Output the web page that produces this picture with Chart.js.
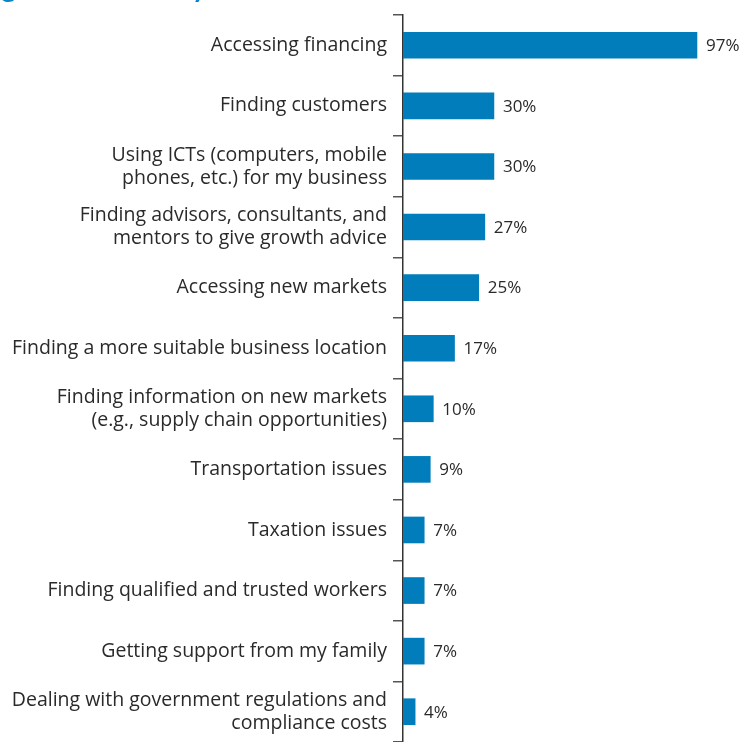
<!DOCTYPE html>
<html>
<head>
<meta charset="utf-8">
<script src="https://cdn.jsdelivr.net/npm/chart.js@4"></script>
<style>
  html, body { margin: 0; padding: 0; background: #fff; }
  #wrap { position: relative; width: 750px; height: 742px; overflow: hidden; }
  #chart { display: block; }
  #title {
    position: absolute; left: -92px; top: -31px; margin: 0; line-height: 34px;
    font: bold 28px Lato, sans-serif; color: #0a85c7; white-space: nowrap;
  }
</style>
</head>
<body>
<div id="wrap">
  <h2 id="title">Challenges Identified by Women</h2>
  <canvas id="chart" width="750" height="742"></canvas>
</div>
<script>
// Categories, top to bottom
const categories = [
    'Accessing financing',
    'Finding customers',
    ['Using ICTs (computers, mobile', 'phones, etc.) for my business'],
    ['Finding advisors, consultants, and', 'mentors to give growth advice'],
    'Accessing new markets',
    'Finding a more suitable business location',
    ['Finding information on new markets', '(e.g., supply chain opportunities)'],
    'Transportation issues',
    'Taxation issues',
    'Finding qualified and trusted workers',
    'Getting support from my family',
    ['Dealing with government regulations and', 'compliance costs']
];

// Share of respondents (%)
const shares = [97, 30, 30, 27, 25, 17, 10, 9, 7, 7, 7, 4];

const barColor = '#007dba';
const textColor = '#2a2a2a';
const fontFamily = '"Open Sans", sans-serif';

// Draw the percent label just right of each bar
const valueLabels = {
    id: 'valueLabels',
    afterDatasetsDraw(chart) {
        const ctx = chart.ctx;
        const meta = chart.getDatasetMeta(0);
        ctx.save();
        ctx.font = '17px ' + fontFamily;
        ctx.fillStyle = textColor;
        ctx.textBaseline = 'middle';
        ctx.textAlign = 'left';
        meta.data.forEach((bar, i) => {
            ctx.fillText(shares[i] + '%', bar.x + 9, bar.y + 1);
        });
        ctx.restore();
    }
};

new Chart(document.getElementById('chart'), {
    type: 'bar',
    data: {
        labels: categories,
        datasets: [{
            data: shares,
            backgroundColor: barColor,
            barThickness: 26
        }]
    },
    options: {
        indexAxis: 'y',
        responsive: false,
        animation: false,
        layout: { padding: { top: 15, right: 0, bottom: 0, left: 0 } },
        plugins: {
            legend: { display: false },
            tooltip: { enabled: false }
        },
        scales: {
            x: {
                display: false,
                min: 0,
                max: 114.5
            },
            y: {
                afterFit(scale) {
                    scale.width = 403;
                    scale.paddingTop = 0;
                    scale.paddingBottom = 0;
                },
                border: { display: true, color: '#333', width: 1.5 },
                grid: {
                    drawOnChartArea: false,
                    drawTicks: true,
                    tickLength: 10,
                    color: '#555',
                    lineWidth: 1.5
                },
                ticks: {
                    color: textColor,
                    padding: 6,
                    font: { family: fontFamily, size: 19.5, lineHeight: 1.18 }
                }
            }
        }
    },
    plugins: [valueLabels]
});
</script>
</body>
</html>
